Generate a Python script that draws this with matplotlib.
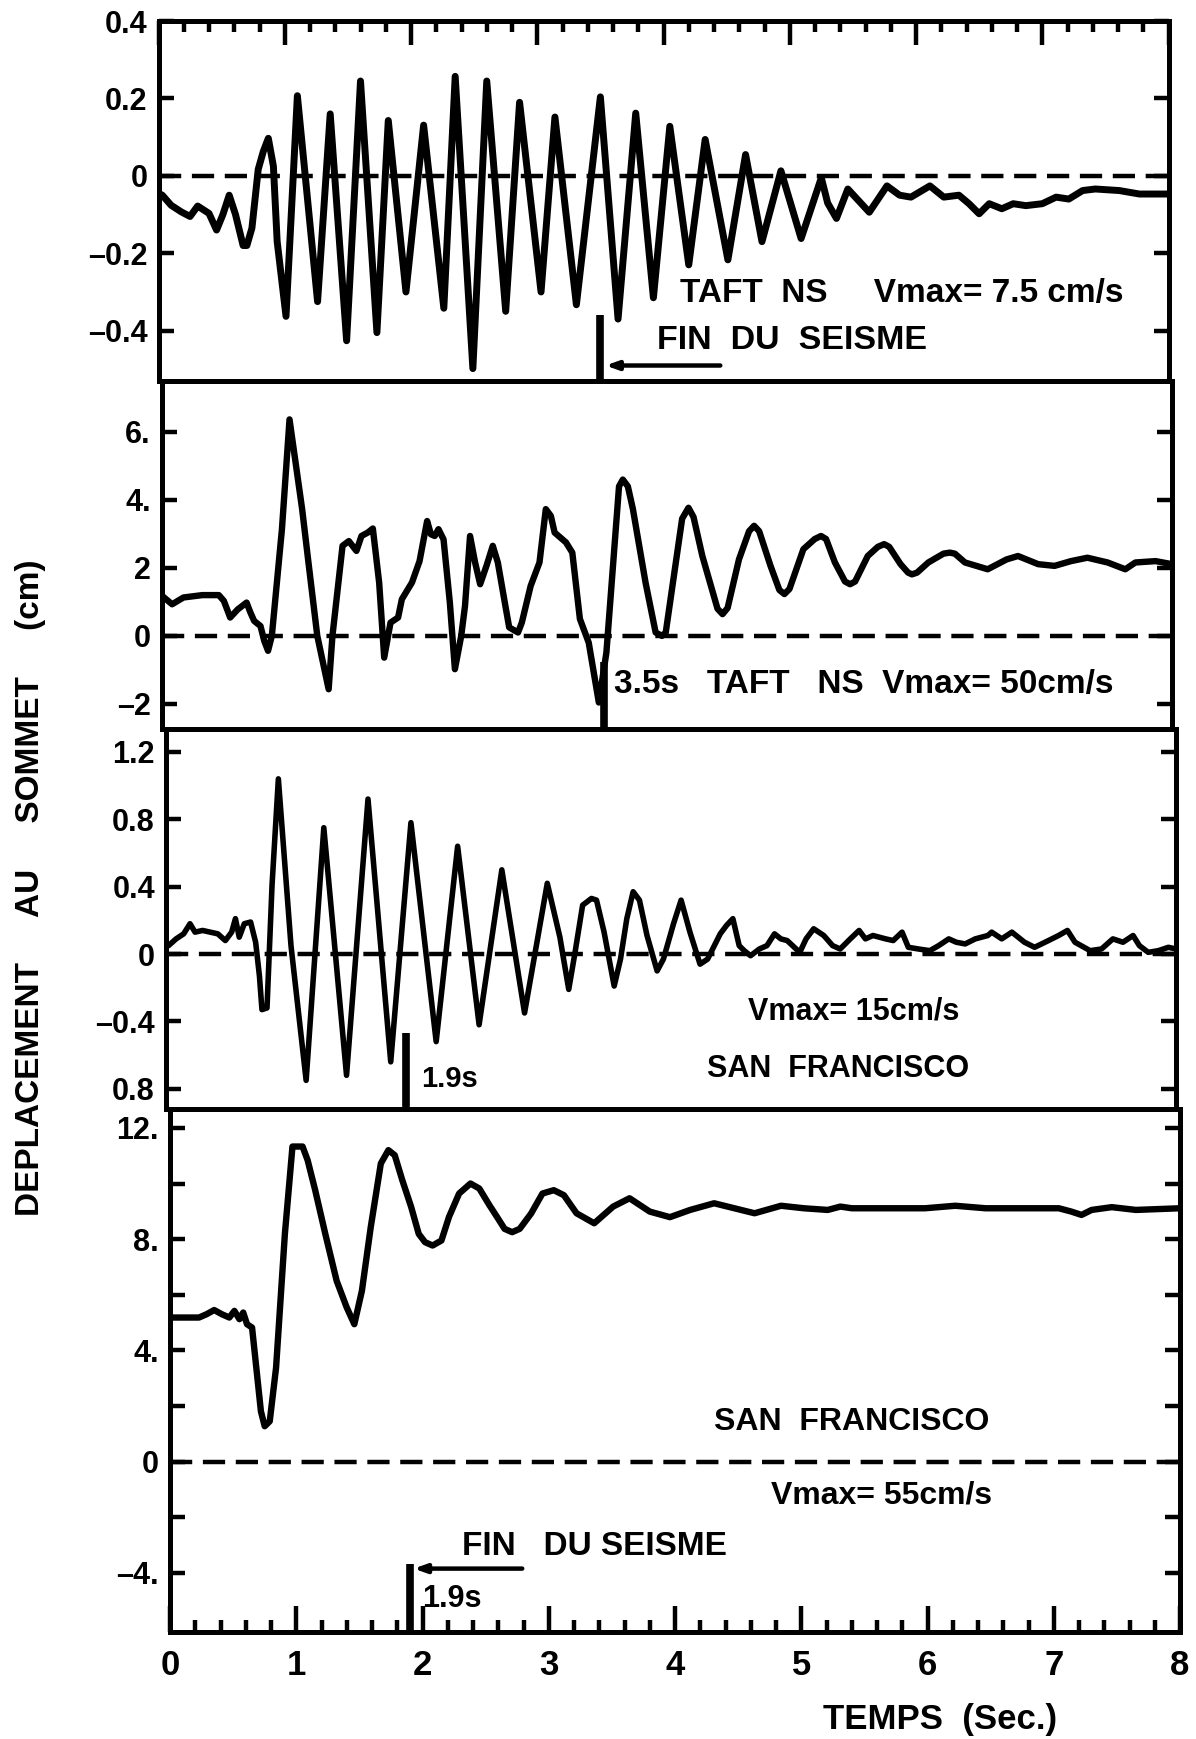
import matplotlib
matplotlib.use("Agg")
import matplotlib.pyplot as plt
from matplotlib.ticker import MultipleLocator

plt.rcParams["font.family"] = ["Liberation Sans", "DejaVu Sans"]
plt.rcParams["font.weight"] = "bold"

# ---------------- data ----------------
# Taft NS, Vmax = 7.5 cm/s
t_taft_small = [0.00, 0.03, 0.10, 0.18, 0.25, 0.31, 0.40, 0.46, 0.51, 0.56,
                0.61, 0.67, 0.70, 0.74, 0.79, 0.83, 0.87, 0.91, 0.94, 1.01,
                1.10, 1.26, 1.36, 1.49, 1.60, 1.73, 1.82, 1.96, 2.10, 2.26,
                2.35, 2.49, 2.60, 2.75, 2.86, 3.03, 3.14, 3.31, 3.50, 3.64,
                3.78, 3.92, 4.05, 4.20, 4.33, 4.51, 4.65, 4.78, 4.93, 5.09,
                5.25, 5.30, 5.37, 5.46, 5.63, 5.77, 5.87, 5.96, 6.11, 6.22,
                6.34, 6.42, 6.50, 6.58, 6.68, 6.77, 6.87, 7.00, 7.11, 7.21,
                7.32, 7.42, 7.61, 7.77, 8.00]
d_taft_small = [-0.045, -0.05, -0.076, -0.093, -0.105, -0.078, -0.097, -0.14, -0.10, -0.05,
                -0.10, -0.18, -0.18, -0.135, 0.017, 0.063, 0.097, 0.025, -0.17, -0.363,
                0.207, -0.325, 0.16, -0.426, 0.245, -0.405, 0.143, -0.30, 0.131, -0.342,
                0.257, -0.498, 0.245, -0.35, 0.19, -0.30, 0.152, -0.333, 0.204, -0.37,
                0.162, -0.315, 0.128, -0.23, 0.094, -0.217, 0.055, -0.17, 0.013, -0.162,
                -0.005, -0.07, -0.11, -0.034, -0.094, -0.026, -0.05, -0.055, -0.026, -0.055,
                -0.05, -0.072, -0.098, -0.072, -0.085, -0.072, -0.077, -0.072, -0.055, -0.06,
                -0.038, -0.034, -0.038, -0.047, -0.047]

# Taft NS, Vmax = 50 cm/s
t_taft_large = [0.00, 0.08, 0.17, 0.32, 0.45, 0.49, 0.54, 0.60, 0.67, 0.70,
                0.73, 0.78, 0.81, 0.84, 0.87, 0.95, 1.01, 1.11, 1.16, 1.23,
                1.32, 1.35, 1.43, 1.48, 1.54, 1.58, 1.63, 1.67, 1.72, 1.76,
                1.81, 1.87, 1.90, 1.98, 2.04, 2.10, 2.13, 2.16, 2.19, 2.23,
                2.28, 2.32, 2.37, 2.40, 2.44, 2.48, 2.52, 2.57, 2.62, 2.66,
                2.72, 2.75, 2.82, 2.85, 2.92, 2.99, 3.04, 3.08, 3.11, 3.20,
                3.25, 3.31, 3.38, 3.46, 3.52, 3.62, 3.65, 3.69, 3.73, 3.83,
                3.91, 3.96, 3.99, 4.12, 4.17, 4.21, 4.28, 4.40, 4.44, 4.48,
                4.57, 4.65, 4.69, 4.73, 4.82, 4.89, 4.93, 4.97, 5.08, 5.17,
                5.22, 5.26, 5.33, 5.41, 5.45, 5.49, 5.59, 5.67, 5.72, 5.76,
                5.85, 5.91, 5.94, 5.98, 6.07, 6.19, 6.24, 6.28, 6.36, 6.54,
                6.69, 6.78, 6.94, 7.07, 7.20, 7.33, 7.49, 7.63, 7.71, 7.87,
                8.00]
d_taft_large = [1.18, 0.93, 1.13, 1.2, 1.2, 1.03, 0.54, 0.78, 0.98, 0.69,
                0.44, 0.29, -0.15, -0.44, 0.0, 3.14, 6.37, 3.73, 2.16, 0.0,
                -1.57, 0.0, 2.65, 2.79, 2.5, 2.94, 3.04, 3.16, 1.57, -0.64,
                0.39, 0.54, 1.08, 1.57, 2.2, 3.38, 2.99, 2.94, 3.14, 2.84,
                0.98, -0.98, 0.0, 0.88, 2.94, 2.16, 1.52, 2.06, 2.65, 2.16,
                0.88, 0.25, 0.1, 0.39, 1.47, 2.16, 3.73, 3.53, 3.04, 2.75,
                2.45, 0.5, -0.2, -1.96, -0.49, 4.40, 4.6, 4.40, 3.73, 1.57,
                0.1, 0.0, 0.1, 3.45, 3.77, 3.50, 2.35, 0.80, 0.64, 0.82,
                2.25, 3.08, 3.24, 3.08, 2.06, 1.35, 1.23, 1.38, 2.55, 2.85,
                2.94, 2.85, 2.16, 1.60, 1.52, 1.60, 2.35, 2.62, 2.7, 2.62,
                2.11, 1.86, 1.81, 1.86, 2.16, 2.42, 2.45, 2.42, 2.16, 1.96,
                2.25, 2.35, 2.11, 2.06, 2.2, 2.3, 2.16, 1.96, 2.16, 2.2,
                2.11]

# San Francisco, Vmax = 15 cm/s
t_sf_small = [0.00, 0.02, 0.08, 0.14, 0.19, 0.23, 0.29, 0.35, 0.41, 0.47,
              0.52, 0.55, 0.58, 0.62, 0.67, 0.71, 0.74, 0.76, 0.80, 0.84,
              0.89, 0.99, 1.11, 1.25, 1.43, 1.60, 1.78, 1.94, 2.14, 2.31,
              2.48, 2.66, 2.84, 3.02, 3.12, 3.19, 3.24, 3.30, 3.37, 3.41,
              3.47, 3.55, 3.60, 3.65, 3.70, 3.75, 3.81, 3.89, 3.94, 4.02,
              4.08, 4.15, 4.23, 4.29, 4.39, 4.44, 4.49, 4.54, 4.58, 4.63,
              4.70, 4.76, 4.82, 4.87, 4.92, 5.02, 5.07, 5.13, 5.21, 5.28,
              5.34, 5.42, 5.49, 5.54, 5.60, 5.70, 5.76, 5.83, 5.88, 5.96,
              6.05, 6.12, 6.20, 6.26, 6.33, 6.41, 6.51, 6.54, 6.62, 6.70,
              6.80, 6.88, 6.99, 7.07, 7.14, 7.20, 7.32, 7.41, 7.50, 7.58,
              7.66, 7.71, 7.78, 7.86, 7.94, 8.00]
d_sf_small = [0.05, 0.05, 0.09, 0.12, 0.18, 0.13, 0.14, 0.13, 0.12, 0.08,
              0.13, 0.21, 0.10, 0.18, 0.19, 0.07, -0.13, -0.33, -0.32, 0.41,
              1.04, 0.05, -0.75, 0.75, -0.72, 0.92, -0.64, 0.78, -0.52, 0.64,
              -0.42, 0.5, -0.35, 0.42, 0.1, -0.21, 0.01, 0.29, 0.33, 0.32,
              0.13, -0.19, -0.03, 0.21, 0.37, 0.32, 0.11, -0.10, -0.03, 0.18,
              0.32, 0.13, -0.06, -0.03, 0.12, 0.17, 0.21, 0.05, 0.02, -0.01,
              0.03, 0.05, 0.12, 0.09, 0.08, 0.01, 0.09, 0.15, 0.11, 0.05,
              0.03, 0.09, 0.14, 0.09, 0.11, 0.09, 0.08, 0.13, 0.04, 0.03,
              0.02, 0.05, 0.09, 0.07, 0.06, 0.09, 0.11, 0.13, 0.09, 0.13,
              0.07, 0.04, 0.08, 0.11, 0.14, 0.07, 0.02, 0.03, 0.09, 0.07,
              0.11, 0.05, 0.01, 0.02, 0.04, 0.03]

# San Francisco, Vmax = 55 cm/s
t_sf_large = [0.00, 0.23, 0.29, 0.35, 0.41, 0.47, 0.51, 0.55, 0.58, 0.61,
              0.65, 0.72, 0.75, 0.79, 0.84, 0.91, 0.97, 1.05, 1.09, 1.15,
              1.23, 1.32, 1.40, 1.46, 1.52, 1.59, 1.67, 1.73, 1.78, 1.84,
              1.91, 1.97, 2.02, 2.08, 2.15, 2.21, 2.29, 2.38, 2.45, 2.53,
              2.59, 2.65, 2.71, 2.77, 2.86, 2.95, 3.04, 3.12, 3.22, 3.36,
              3.51, 3.64, 3.80, 3.96, 4.12, 4.31, 4.47, 4.63, 4.84, 5.02,
              5.21, 5.31, 5.40, 5.66, 5.98, 6.22, 6.46, 6.78, 7.04, 7.14,
              7.22, 7.30, 7.46, 7.65, 8.00]
d_sf_large = [5.18, 5.18, 5.30, 5.45, 5.30, 5.18, 5.42, 5.12, 5.36, 4.94,
              4.82, 1.81, 1.27, 1.45, 3.37, 8.19, 11.33, 11.33, 10.84, 9.76,
              8.19, 6.5, 5.54, 4.94, 6.14, 8.43, 10.72, 11.2, 11.02, 10.12,
              9.16, 8.19, 7.89, 7.77, 7.95, 8.8, 9.64, 10.0, 9.82, 9.22,
              8.8, 8.37, 8.25, 8.37, 8.92, 9.64, 9.76, 9.58, 8.93, 8.57,
              9.17, 9.47, 8.99, 8.79, 9.05, 9.29, 9.11, 8.93, 9.2, 9.11,
              9.05, 9.17, 9.11, 9.11, 9.11, 9.2, 9.11, 9.11, 9.11, 8.99,
              8.87, 9.05, 9.15, 9.05, 9.11]

# end of strong shaking (s)
TAFT_END = 3.5
SF_END = 1.9

x_ticks = [0, 1, 2, 3, 4, 5, 6, 7, 8]
x_tick_labels = ["0", "1", "2", "3", "4", "5", "6", "7", "8"]

yt_taft_small = [0.4, 0.2, 0.0, -0.2, -0.4]
yl_taft_small = ["0.4", "0.2", "0", "\u20130.2", "\u20130.4"]
yt_taft_large = [6, 4, 2, 0, -2]
yl_taft_large = ["6.", "4.", "2", "0", "\u20132"]
yt_sf_small = [1.2, 0.8, 0.4, 0.0, -0.4, -0.8]
yl_sf_small = ["1.2", "0.8", "0.4", "0", "\u20130.4", "0.8"]
yt_sf_large = [12, 10, 8, 6, 4, 2, 0, -2, -4]
yl_sf_large = ["12.", "", "8.", "", "4.", "", "0", "", "\u20134."]

# ---------------- figure ----------------
W, H, DPI = 1196, 1739, 100
fig = plt.figure(figsize=(W / DPI, H / DPI), dpi=DPI)
fig.patch.set_facecolor("white")

PLOT_W = 1010


def rect(top, bottom, left):
    return [left / W, 1 - bottom / H, PLOT_W / W, (bottom - top) / H]


LW_SPINE = 3.6
TXT = 24

panels = [
    dict(r=rect(21, 381, 158.5), ylim=(-0.53, 0.40), t=t_taft_small, d=d_taft_small,
         yt=yt_taft_small, yl=yl_taft_small, lw=5.0),
    dict(r=rect(381, 729, 162.0), ylim=(-2.74, 7.50), t=t_taft_large, d=d_taft_large,
         yt=yt_taft_large, yl=yl_taft_large, lw=4.6),
    dict(r=rect(729, 1109, 166.0), ylim=(-0.92, 1.336), t=t_sf_small, d=d_sf_small,
         yt=yt_sf_small, yl=yl_sf_small, lw=4.0),
    dict(r=rect(1109, 1632, 170.0), ylim=(-6.13, 12.68), t=t_sf_large, d=d_sf_large,
         yt=yt_sf_large, yl=yl_sf_large, lw=4.6),
]

axes = []
for p in panels:
    ax = fig.add_axes(p["r"])
    ax.set_xlim(0, 8)
    ax.set_ylim(*p["ylim"])
    for s in ax.spines.values():
        s.set_linewidth(LW_SPINE)
    ax.axhline(0, color="black", lw=3.2, ls=(0, (5.0, 2.4)), zorder=1)
    ax.plot(p["t"], p["d"], color="black", lw=p["lw"],
            solid_joinstyle="round", solid_capstyle="round", zorder=3)
    ax.set_yticks(p["yt"], labels=p["yl"])
    ax.tick_params(axis="y", which="major", direction="in", left=True, right=True,
                   length=11, width=3.2, labelsize=22, pad=8)
    ax.set_xticks(x_ticks)
    ax.xaxis.set_minor_locator(MultipleLocator(0.2))
    ax.tick_params(axis="x", which="both", bottom=False, top=False,
                   labelbottom=False, labeltop=False)
    axes.append(ax)

ax1, ax2, ax3, ax4 = axes

# time ticks on the top of the first panel and the bottom of the last
ax1.tick_params(axis="x", which="both", top=True, direction="in", width=3.2)
ax1.tick_params(axis="x", which="major", length=17)
ax1.tick_params(axis="x", which="minor", length=8)
ax4.set_xticks(x_ticks, labels=x_tick_labels)
ax4.tick_params(axis="x", which="both", bottom=True, labelbottom=True,
                direction="in", width=3.2, labelsize=25, pad=12)
ax4.tick_params(axis="x", which="major", length=19)
ax4.tick_params(axis="x", which="minor", length=9)


def end_bar(ax, x, top, lw=5.5):
    ax.plot([x, x], [ax.get_ylim()[0], top], color="black", lw=lw,
            solid_capstyle="butt", zorder=4)


def arrow(ax, x_from, x_to, y):
    ax.annotate("", xy=(x_to, y), xytext=(x_from, y),
                arrowprops=dict(arrowstyle="-|>,head_length=0.7,head_width=0.25",
                                color="black", lw=3.2, shrinkA=0, shrinkB=0))


# panel 1: Taft, small motion
end_bar(ax1, TAFT_END, -0.36)
arrow(ax1, 4.45, TAFT_END + 0.04, -0.49)
ax1.text(4.13, -0.305, "TAFT  NS     Vmax= 7.5 cm/s", fontsize=TXT, ha="left", va="center")
ax1.text(3.95, -0.425, "FIN  DU  SEISME", fontsize=24.5, ha="left", va="center")

# panel 2: Taft, strong motion
end_bar(ax2, TAFT_END, -0.76)
ax2.text(TAFT_END + 0.08, -1.42, f"{TAFT_END}s   TAFT   NS  Vmax= 50cm/s",
         fontsize=TXT, ha="left", va="center")

# panel 3: San Francisco, small motion
end_bar(ax3, SF_END, -0.47)
ax3.text(SF_END + 0.12, -0.74, f"{SF_END}s", fontsize=21, ha="left", va="center")
ax3.text(5.45, -0.34, "Vmax= 15cm/s", fontsize=22, ha="center", va="center")
ax3.text(5.32, -0.68, "SAN  FRANCISCO", fontsize=22, ha="center", va="center")

# panel 4: San Francisco, strong motion
end_bar(ax4, SF_END, -3.67)
arrow(ax4, 2.79, SF_END + 0.03, -3.85)
ax4.text(5.40, 1.42, "SAN  FRANCISCO", fontsize=23, ha="center", va="center")
ax4.text(5.64, -1.22, "Vmax= 55cm/s", fontsize=23, ha="center", va="center")
ax4.text(2.31, -3.07, "FIN   DU SEISME", fontsize=24, ha="left", va="center")
ax4.text(SF_END + 0.10, -4.95, f"{SF_END}s", fontsize=22, ha="left", va="center")

fig.text(31 / W, 1 - 888 / H, "DEPLACEMENT     AU     SOMMET     (cm)",
         rotation=90, fontsize=24, ha="center", va="center")
fig.text(940 / W, 1 - 1719 / H, "TEMPS  (Sec.)", fontsize=25, ha="center", va="center")

fig.savefig("out.png", dpi=DPI, facecolor="white")
